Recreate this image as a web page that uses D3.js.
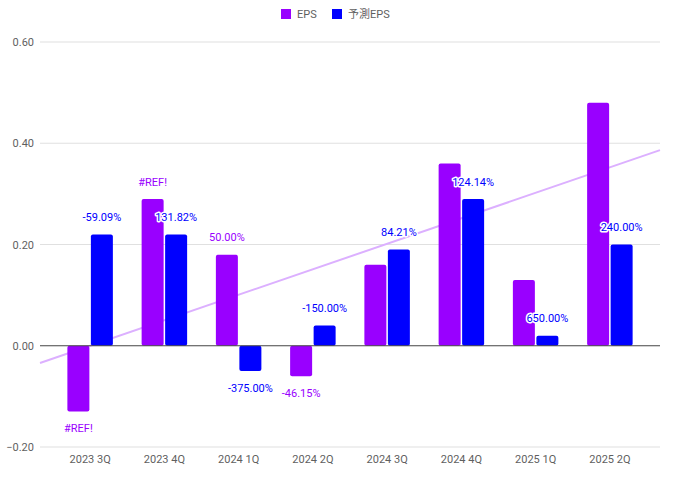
<!DOCTYPE html>
<html><head><meta charset="utf-8">
<script src="https://cdn.jsdelivr.net/npm/d3@7"></script>
<style>body{margin:0;background:#fff}svg{display:block;font-family:Roboto,"Noto Sans CJK JP",sans-serif}</style>
</head><body>
<svg id="c" width="679" height="481"></svg>
<script>
const categories = ["2023 3Q","2023 4Q","2024 1Q","2024 2Q","2024 3Q","2024 4Q","2025 1Q","2025 2Q"];
const epsValues = [-0.13, 0.29, 0.18, -0.06, 0.16, 0.36, 0.13, 0.48];
const forecastValues = [0.22, 0.22, -0.05, 0.04, 0.19, 0.29, 0.02, 0.20];
const epsLabels = ["#REF!", "#REF!", "50.00%", "-46.15%", null, null, null, null];
const forecastLabels = ["-59.09%", "131.82%", "-375.00%", "-150.00%", "84.21%", "124.14%", "650.00%", "240.00%"];
const yTicks = [-0.2, 0, 0.2, 0.4, 0.6];
const seriesNames = ["EPS", "予測EPS"];
const colors = ["#9900ff", "#0000ff"];

const svg = d3.select("#c");
const plotL = 40, plotR = 660, plotT = 42, plotB = 447;
const x = d3.scaleBand().domain(categories).range([53, 647]);
const y = d3.scaleLinear().domain([-0.2, 0.6]).range([plotB, plotT]);
const barW = 22, gap = 1.5;

// gridlines
svg.append("g").selectAll("line").data(yTicks.filter(d => d !== 0)).join("line")
  .attr("x1", plotL).attr("x2", plotR).attr("y1", d => y(d)).attr("y2", d => y(d))
  .attr("stroke", "#e0e0e0").attr("stroke-width", 1.2);

// y axis labels
const yAxis = d3.axisLeft(y).tickValues(yTicks).tickFormat(d3.format(".2f")).tickSize(0).tickPadding(6);
const ga = svg.append("g").attr("transform", `translate(${plotL},0)`).call(yAxis);
ga.select(".domain").remove();
ga.selectAll("text").attr("fill", "#5f5f5f").attr("font-size", 11).attr("font-family", "Roboto");

// x axis labels
const xAxis = d3.axisBottom(x).tickSize(0).tickPadding(8);
const gx = svg.append("g").attr("transform", `translate(0,${plotB})`).call(xAxis);
gx.select(".domain").remove();
gx.selectAll("text").attr("fill", "#5f5f5f").attr("font-size", 11).attr("font-family", "Roboto");

// linear trendline for EPS (least squares on category index)
const mx = d3.mean(epsValues, (d, i) => i), my = d3.mean(epsValues);
const slope = d3.sum(epsValues, (d, i) => (i - mx) * (d - my)) / d3.sum(epsValues, (d, i) => (i - mx) ** 2);
const icpt = my - slope * mx;
const c0 = x(categories[0]) + x.bandwidth() / 2;
const pxToIdx = p => (p - c0) / x.step();
const trendPts = [plotL, plotR].map(p => [p, y(icpt + slope * pxToIdx(p))]);
svg.append("path").attr("d", d3.line()(trendPts)).attr("stroke", "#dcb0ff").attr("stroke-width", 2).attr("fill", "none");

// bars
const series = [epsValues, forecastValues];
const barX = (i, si) => x(categories[i]) + x.bandwidth() / 2 + (si === 0 ? -gap / 2 - barW : gap / 2);
series.forEach((vals, si) => {
  svg.append("g").selectAll("rect").data(vals).join("rect")
    .attr("x", (d, i) => barX(i, si))
    .attr("width", barW)
    .attr("y", d => y(Math.max(0, d)))
    .attr("height", d => Math.abs(y(d) - y(0)))
    .attr("rx", 2)
    .attr("fill", colors[si]);
});

// zero baseline
svg.append("line").attr("x1", plotL).attr("x2", plotR).attr("y1", y(0)).attr("y2", y(0))
  .attr("stroke", "#444").attr("stroke-width", 1);

// labels
[epsLabels, forecastLabels].forEach((labs, si) => {
  const vals = series[si];
  const g = svg.append("g");
  labs.forEach((lab, i) => {
    if (lab === null) return;
    const v = vals[i];
    const cx = barX(i, si) + barW / 2;
    const cy = v >= 0 ? y(v) - 17 : y(v) + 17;
    g.append("text").attr("x", cx).attr("y", cy).attr("dy", "0.35em")
      .attr("text-anchor", "middle").attr("font-size", 11).attr("font-family", "Roboto")
      .attr("fill", colors[si]).attr("stroke", "#fff").attr("stroke-width", 3)
      .attr("paint-order", "stroke").attr("stroke-linejoin", "round").text(lab);
  });
});

// legend
const legend = svg.append("g").attr("transform", "translate(0,14)");
const legX = [281, 332];
seriesNames.forEach((name, i) => {
  legend.append("rect").attr("x", legX[i]).attr("y", -5).attr("width", 10).attr("height", 10).attr("fill", colors[i]);
  legend.append("text").attr("x", legX[i] + 16).attr("y", 0).attr("dy", "0.35em")
    .attr("font-size", 11).attr("fill", "#5f5f5f").attr("font-family", "Roboto, 'Noto Sans CJK JP'").text(name);
});
</script>
</body></html>
